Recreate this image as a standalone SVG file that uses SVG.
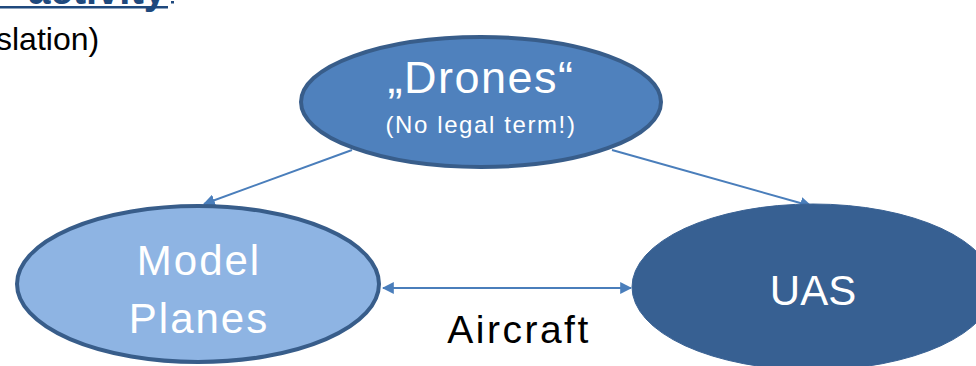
<svg xmlns="http://www.w3.org/2000/svg" width="976" height="366" viewBox="0 0 976 366">
<defs>
<style>
.t{font-family:"Liberation Sans",Arial,sans-serif;}
.w{fill:#ffffff;text-anchor:middle;}
.c{stroke:#4A7EBB;stroke-width:2;fill:none;}
</style>
<marker id="ah" viewBox="0 0 10 10" refX="9" refY="5" markerWidth="6" markerHeight="6" markerUnits="strokeWidth" orient="auto-start-reverse">
<path d="M0,0 L10,5 L0,10 z" fill="#4A7EBB"/>
</marker>
</defs>
<rect width="976" height="366" fill="#ffffff"/>
<g id="header">
<text class="t" x="166" y="4" text-anchor="end" font-size="40" font-weight="bold" fill="#1F497D">activity</text>
<rect x="0" y="6" width="168" height="2.5" fill="#1F497D"/>
<rect x="171" y="1" width="3" height="2.5" fill="#1F497D"/>
<text class="t" x="-4" y="50" font-size="32" fill="#000000">slation)</text>
</g>
<g id="connectors">
<line class="c" x1="352" y1="150" x2="204" y2="204" marker-end="url(#ah)"/>
<line class="c" x1="612" y1="150" x2="811" y2="206" marker-end="url(#ah)"/>
<line class="c" x1="383" y1="288" x2="631" y2="288" marker-start="url(#ah)" marker-end="url(#ah)"/>
</g>
<g id="drones">
<ellipse cx="481" cy="102" rx="180" ry="65" fill="#4F81BD" stroke="#385D8A" stroke-width="4"/>
<text class="t w" x="481" y="93" font-size="45" letter-spacing="1.5">„Drones“</text>
<text class="t w" x="481" y="133" font-size="24" letter-spacing="1.6">(No legal term!)</text>
</g>
<g id="model-planes">
<ellipse cx="198" cy="284" rx="181" ry="78" fill="#8EB4E3" stroke="#385D8A" stroke-width="4"/>
<text class="t w" x="199" y="275" font-size="42" letter-spacing="2">Model</text>
<text class="t w" x="199" y="333" font-size="42" letter-spacing="2">Planes</text>
</g>
<g id="uas">
<ellipse cx="813" cy="287" rx="181" ry="83" fill="#376092" stroke="#3A6294" stroke-width="1"/>
<text class="t w" x="813" y="305" font-size="42">UAS</text>
</g>
<g id="aircraft-label">
<text class="t" x="519" y="343" font-size="39" text-anchor="middle" letter-spacing="2.5" fill="#000000">Aircraft</text>
</g>
</svg>
